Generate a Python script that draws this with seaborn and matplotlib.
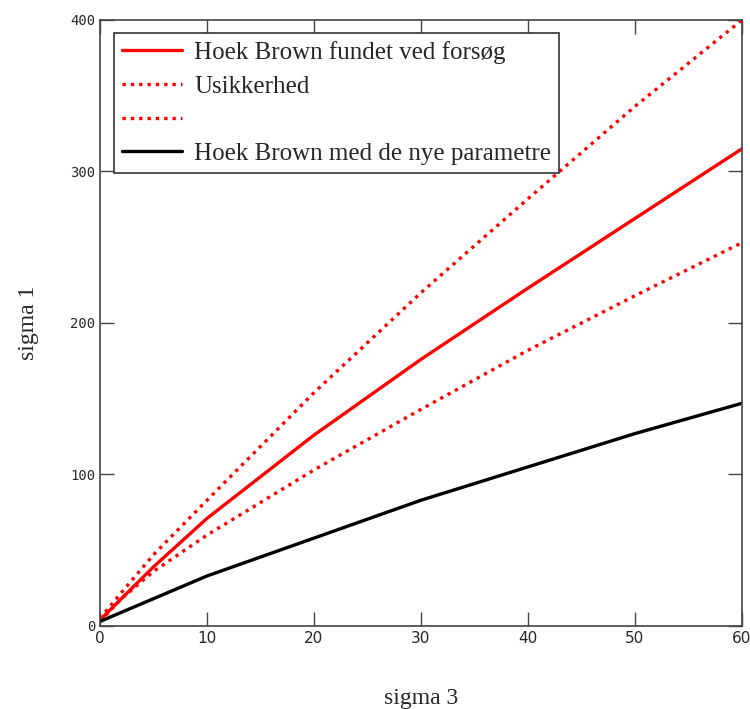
import seaborn as sns
import pandas as pd
import matplotlib.pyplot as plt

# values
sigma3 = [0, 2, 5, 10, 20, 30, 40, 50, 60]
hb_test = [4, 18, 39, 71, 126, 176, 223, 269, 315]
hb_upper = [5, 22, 47, 83, 154, 220, 282, 343, 400]
hb_lower = [3, 18, 36, 60, 103, 143, 182, 218, 253]
hb_new = [3, 9, 18, 33, 58, 83, 105, 127, 147]

labels = ["Hoek Brown fundet ved forsøg", "Usikkerhed", " ", "Hoek Brown med de nye parametre"]
x_ticks = [0, 10, 20, 30, 40, 50, 60]
y_ticks = [0, 100, 200, 300, 400]

sns.set_style("ticks")
plt.rcParams["font.family"] = ["Liberation Serif", "DejaVu Serif"]

df = pd.DataFrame({"s3": sigma3, "test": hb_test, "upper": hb_upper,
                   "lower": hb_lower, "new": hb_new})

fig = plt.figure(figsize=(7.5, 7.09), dpi=100)
ax = fig.add_axes([0.1333, 0.1171, 0.856, 0.8547])

dot = (0, (1, 1.5))
sns.lineplot(data=df, x="s3", y="test", ax=ax, color="red", lw=2.4)
sns.lineplot(data=df, x="s3", y="upper", ax=ax, color="red", lw=2.4, linestyle=dot)
sns.lineplot(data=df, x="s3", y="lower", ax=ax, color="red", lw=2.4, linestyle=dot)
sns.lineplot(data=df, x="s3", y="new", ax=ax, color="black", lw=2.4)

ax.set_xlim(0, 60)
ax.set_ylim(0, 400)
ax.set_xticks(x_ticks)
ax.set_yticks(y_ticks)
ax.tick_params(direction="in", length=10, width=1, top=True, right=True, color="#444444")
for lab in ax.get_xticklabels():
    lab.set_family(["Liberation Sans Narrow", "DejaVu Sans"])
    lab.set_fontsize(11)
for lab in ax.get_yticklabels():
    lab.set_family(["DejaVu Sans Mono"])
    lab.set_fontsize(10)
for sp in ax.spines.values():
    sp.set_visible(True)
    sp.set_color("#444444")
    sp.set_linewidth(1.2)

ax.set_xlabel("sigma 3", fontsize=17, labelpad=30)
ax.set_ylabel("sigma 1", fontsize=17, labelpad=22)

leg = ax.legend(ax.get_lines(), labels, loc="upper left", bbox_to_anchor=(0.022, 0.978),
                fontsize=18, frameon=True, fancybox=False, framealpha=1,
                edgecolor="#333333", handlelength=2.4, borderpad=0.3,
                labelspacing=0.45, handletextpad=0.5, borderaxespad=0)
leg.get_frame().set_linewidth(1.2)

fig.savefig("out.png", dpi=100, facecolor="white")
